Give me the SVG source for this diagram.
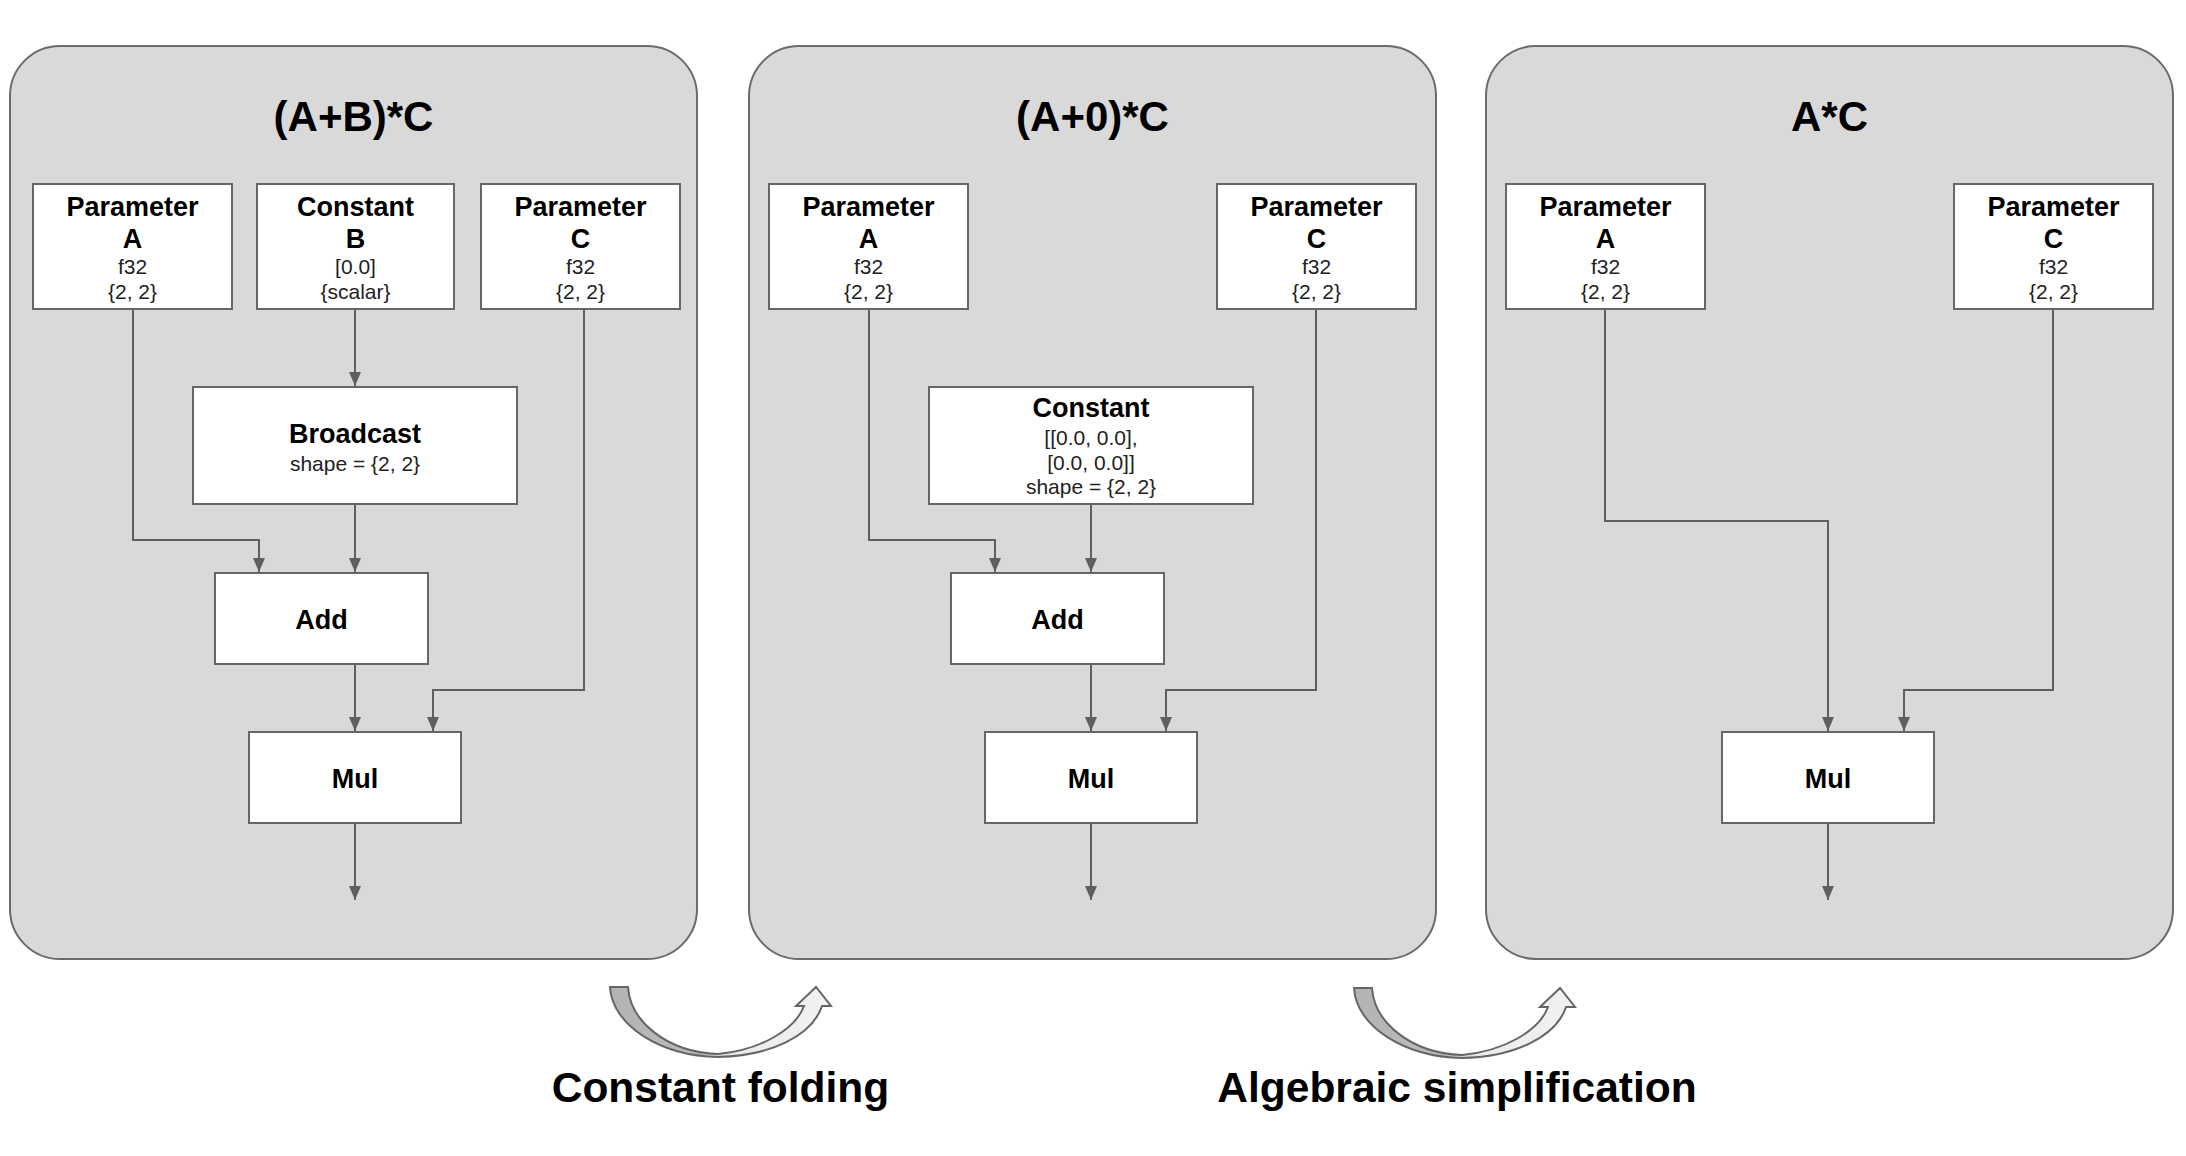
<svg xmlns="http://www.w3.org/2000/svg" width="2186" height="1156" viewBox="0 0 2186 1156">
<defs>
<style>
.panel{fill:#d9d9d9;stroke:#6b6b6b;stroke-width:2}
.node{fill:#fff;stroke:#666;stroke-width:2}
.title{font-family:"Liberation Sans",Arial,sans-serif;font-weight:bold;font-size:42px;fill:#000;text-anchor:middle}
.b{font-family:"Liberation Sans",Arial,sans-serif;font-weight:bold;font-size:27px;fill:#000;text-anchor:middle}
.s{font-family:"Liberation Sans",Arial,sans-serif;font-size:21px;fill:#222;text-anchor:middle}
.edge{fill:none;stroke:#5f5f5f;stroke-width:2;marker-end:url(#ah)}
.cap{font-family:"Liberation Sans",Arial,sans-serif;font-weight:bold;font-size:42.5px;fill:#000;text-anchor:middle}
.curve{stroke:#666;stroke-width:2;fill:url(#cg)}
</style>
<marker id="ah" markerUnits="userSpaceOnUse" markerWidth="15" markerHeight="12" refX="14" refY="6" orient="auto">
<path d="M0,0 L14,6 L0,12 Z" fill="#5f5f5f"/>
</marker>
<linearGradient id="cg" gradientUnits="userSpaceOnUse" x1="610" y1="0" x2="831" y2="0">
<stop offset="0" stop-color="#b3b3b3"/>
<stop offset="0.42" stop-color="#bdbdbd"/>
<stop offset="0.58" stop-color="#ebebeb"/>
<stop offset="1" stop-color="#f2f2f2"/>
</linearGradient>
</defs>
<rect width="2186" height="1156" fill="#fff"/>

<g id="panel1">
<rect class="panel" x="10" y="46" width="687" height="913" rx="50"/>
<text class="title" x="353.5" y="131">(A+B)*C</text>
</g>
<g id="panel2">
<rect class="panel" x="749" y="46" width="687" height="913" rx="50"/>
<text class="title" x="1092.5" y="131">(A+0)*C</text>
</g>
<g id="panel3">
<rect class="panel" x="1486" y="46" width="687" height="913" rx="50"/>
<text class="title" x="1829.5" y="131">A*C</text>
</g>

<g id="connectors">
<path class="edge" d="M133,309 V540 H259 V572"/>
<path class="edge" d="M355,309 V386"/>
<path class="edge" d="M355,504 V572"/>
<path class="edge" d="M355,664 V731"/>
<path class="edge" d="M584,309 V690 H433 V731"/>
<path class="edge" d="M355,823 V900"/>

<path class="edge" d="M869,309 V540 H995 V572"/>
<path class="edge" d="M1091,504 V572"/>
<path class="edge" d="M1091,664 V731"/>
<path class="edge" d="M1316,309 V690 H1166 V731"/>
<path class="edge" d="M1091,823 V900"/>

<path class="edge" d="M1605,309 V521 H1828 V731"/>
<path class="edge" d="M2053,309 V690 H1904 V731"/>
<path class="edge" d="M1828,823 V900"/>
</g>

<g id="p1-paramA">
<rect class="node" x="33" y="184" width="199" height="125"/>
<text class="b" x="132.5" y="216">Parameter</text>
<text class="b" x="132.5" y="248">A</text>
<text class="s" x="132.5" y="274">f32</text>
<text class="s" x="132.5" y="299">{2, 2}</text>
</g>
<g id="p1-constB">
<rect class="node" x="257" y="184" width="197" height="125"/>
<text class="b" x="355.5" y="216">Constant</text>
<text class="b" x="355.5" y="248">B</text>
<text class="s" x="355.5" y="274">[0.0]</text>
<text class="s" x="355.5" y="299">{scalar}</text>
</g>
<g id="p1-paramC">
<rect class="node" x="481" y="184" width="199" height="125"/>
<text class="b" x="580.5" y="216">Parameter</text>
<text class="b" x="580.5" y="248">C</text>
<text class="s" x="580.5" y="274">f32</text>
<text class="s" x="580.5" y="299">{2, 2}</text>
</g>
<g id="p1-broadcast">
<rect class="node" x="193" y="387" width="324" height="117"/>
<text class="b" x="355" y="443">Broadcast</text>
<text class="s" x="355" y="471">shape = {2, 2}</text>
</g>
<g id="p1-add">
<rect class="node" x="215" y="573" width="213" height="91"/>
<text class="b" x="321.5" y="629">Add</text>
</g>
<g id="p1-mul">
<rect class="node" x="249" y="732" width="212" height="91"/>
<text class="b" x="355" y="788">Mul</text>
</g>

<g id="p2-paramA">
<rect class="node" x="769" y="184" width="199" height="125"/>
<text class="b" x="868.5" y="216">Parameter</text>
<text class="b" x="868.5" y="248">A</text>
<text class="s" x="868.5" y="274">f32</text>
<text class="s" x="868.5" y="299">{2, 2}</text>
</g>
<g id="p2-paramC">
<rect class="node" x="1217" y="184" width="199" height="125"/>
<text class="b" x="1316.5" y="216">Parameter</text>
<text class="b" x="1316.5" y="248">C</text>
<text class="s" x="1316.5" y="274">f32</text>
<text class="s" x="1316.5" y="299">{2, 2}</text>
</g>
<g id="p2-constant">
<rect class="node" x="929" y="387" width="324" height="117"/>
<text class="b" x="1091" y="417">Constant</text>
<text class="s" x="1091" y="445">[[0.0, 0.0],</text>
<text class="s" x="1091" y="470">[0.0, 0.0]]</text>
<text class="s" x="1091" y="494">shape = {2, 2}</text>
</g>
<g id="p2-add">
<rect class="node" x="951" y="573" width="213" height="91"/>
<text class="b" x="1057.5" y="629">Add</text>
</g>
<g id="p2-mul">
<rect class="node" x="985" y="732" width="212" height="91"/>
<text class="b" x="1091" y="788">Mul</text>
</g>

<g id="p3-paramA">
<rect class="node" x="1506" y="184" width="199" height="125"/>
<text class="b" x="1605.5" y="216">Parameter</text>
<text class="b" x="1605.5" y="248">A</text>
<text class="s" x="1605.5" y="274">f32</text>
<text class="s" x="1605.5" y="299">{2, 2}</text>
</g>
<g id="p3-paramC">
<rect class="node" x="1954" y="184" width="199" height="125"/>
<text class="b" x="2053.5" y="216">Parameter</text>
<text class="b" x="2053.5" y="248">C</text>
<text class="s" x="2053.5" y="274">f32</text>
<text class="s" x="2053.5" y="299">{2, 2}</text>
</g>
<g id="p3-mul">
<rect class="node" x="1722" y="732" width="212" height="91"/>
<text class="b" x="1828" y="788">Mul</text>
</g>

<g id="transform-constant-folding">
<path class="curve" d="M610,987 L628,987 C630,1020 665,1052 718,1054 C760,1050 795,1030 804,1006 L796,1006 L816,987 L831,1006 L822,1006 C812,1036 770,1056 718,1057 C660,1056 612,1025 610,987 Z"/>
<text class="cap" x="720.5" y="1102">Constant folding</text>
</g>
<g id="transform-algebraic">
<path class="curve" transform="translate(744,1)" d="M610,987 L628,987 C630,1020 665,1052 718,1054 C760,1050 795,1030 804,1006 L796,1006 L816,987 L831,1006 L822,1006 C812,1036 770,1056 718,1057 C660,1056 612,1025 610,987 Z"/>
<text class="cap" x="1457" y="1102">Algebraic simplification</text>
</g>
</svg>
